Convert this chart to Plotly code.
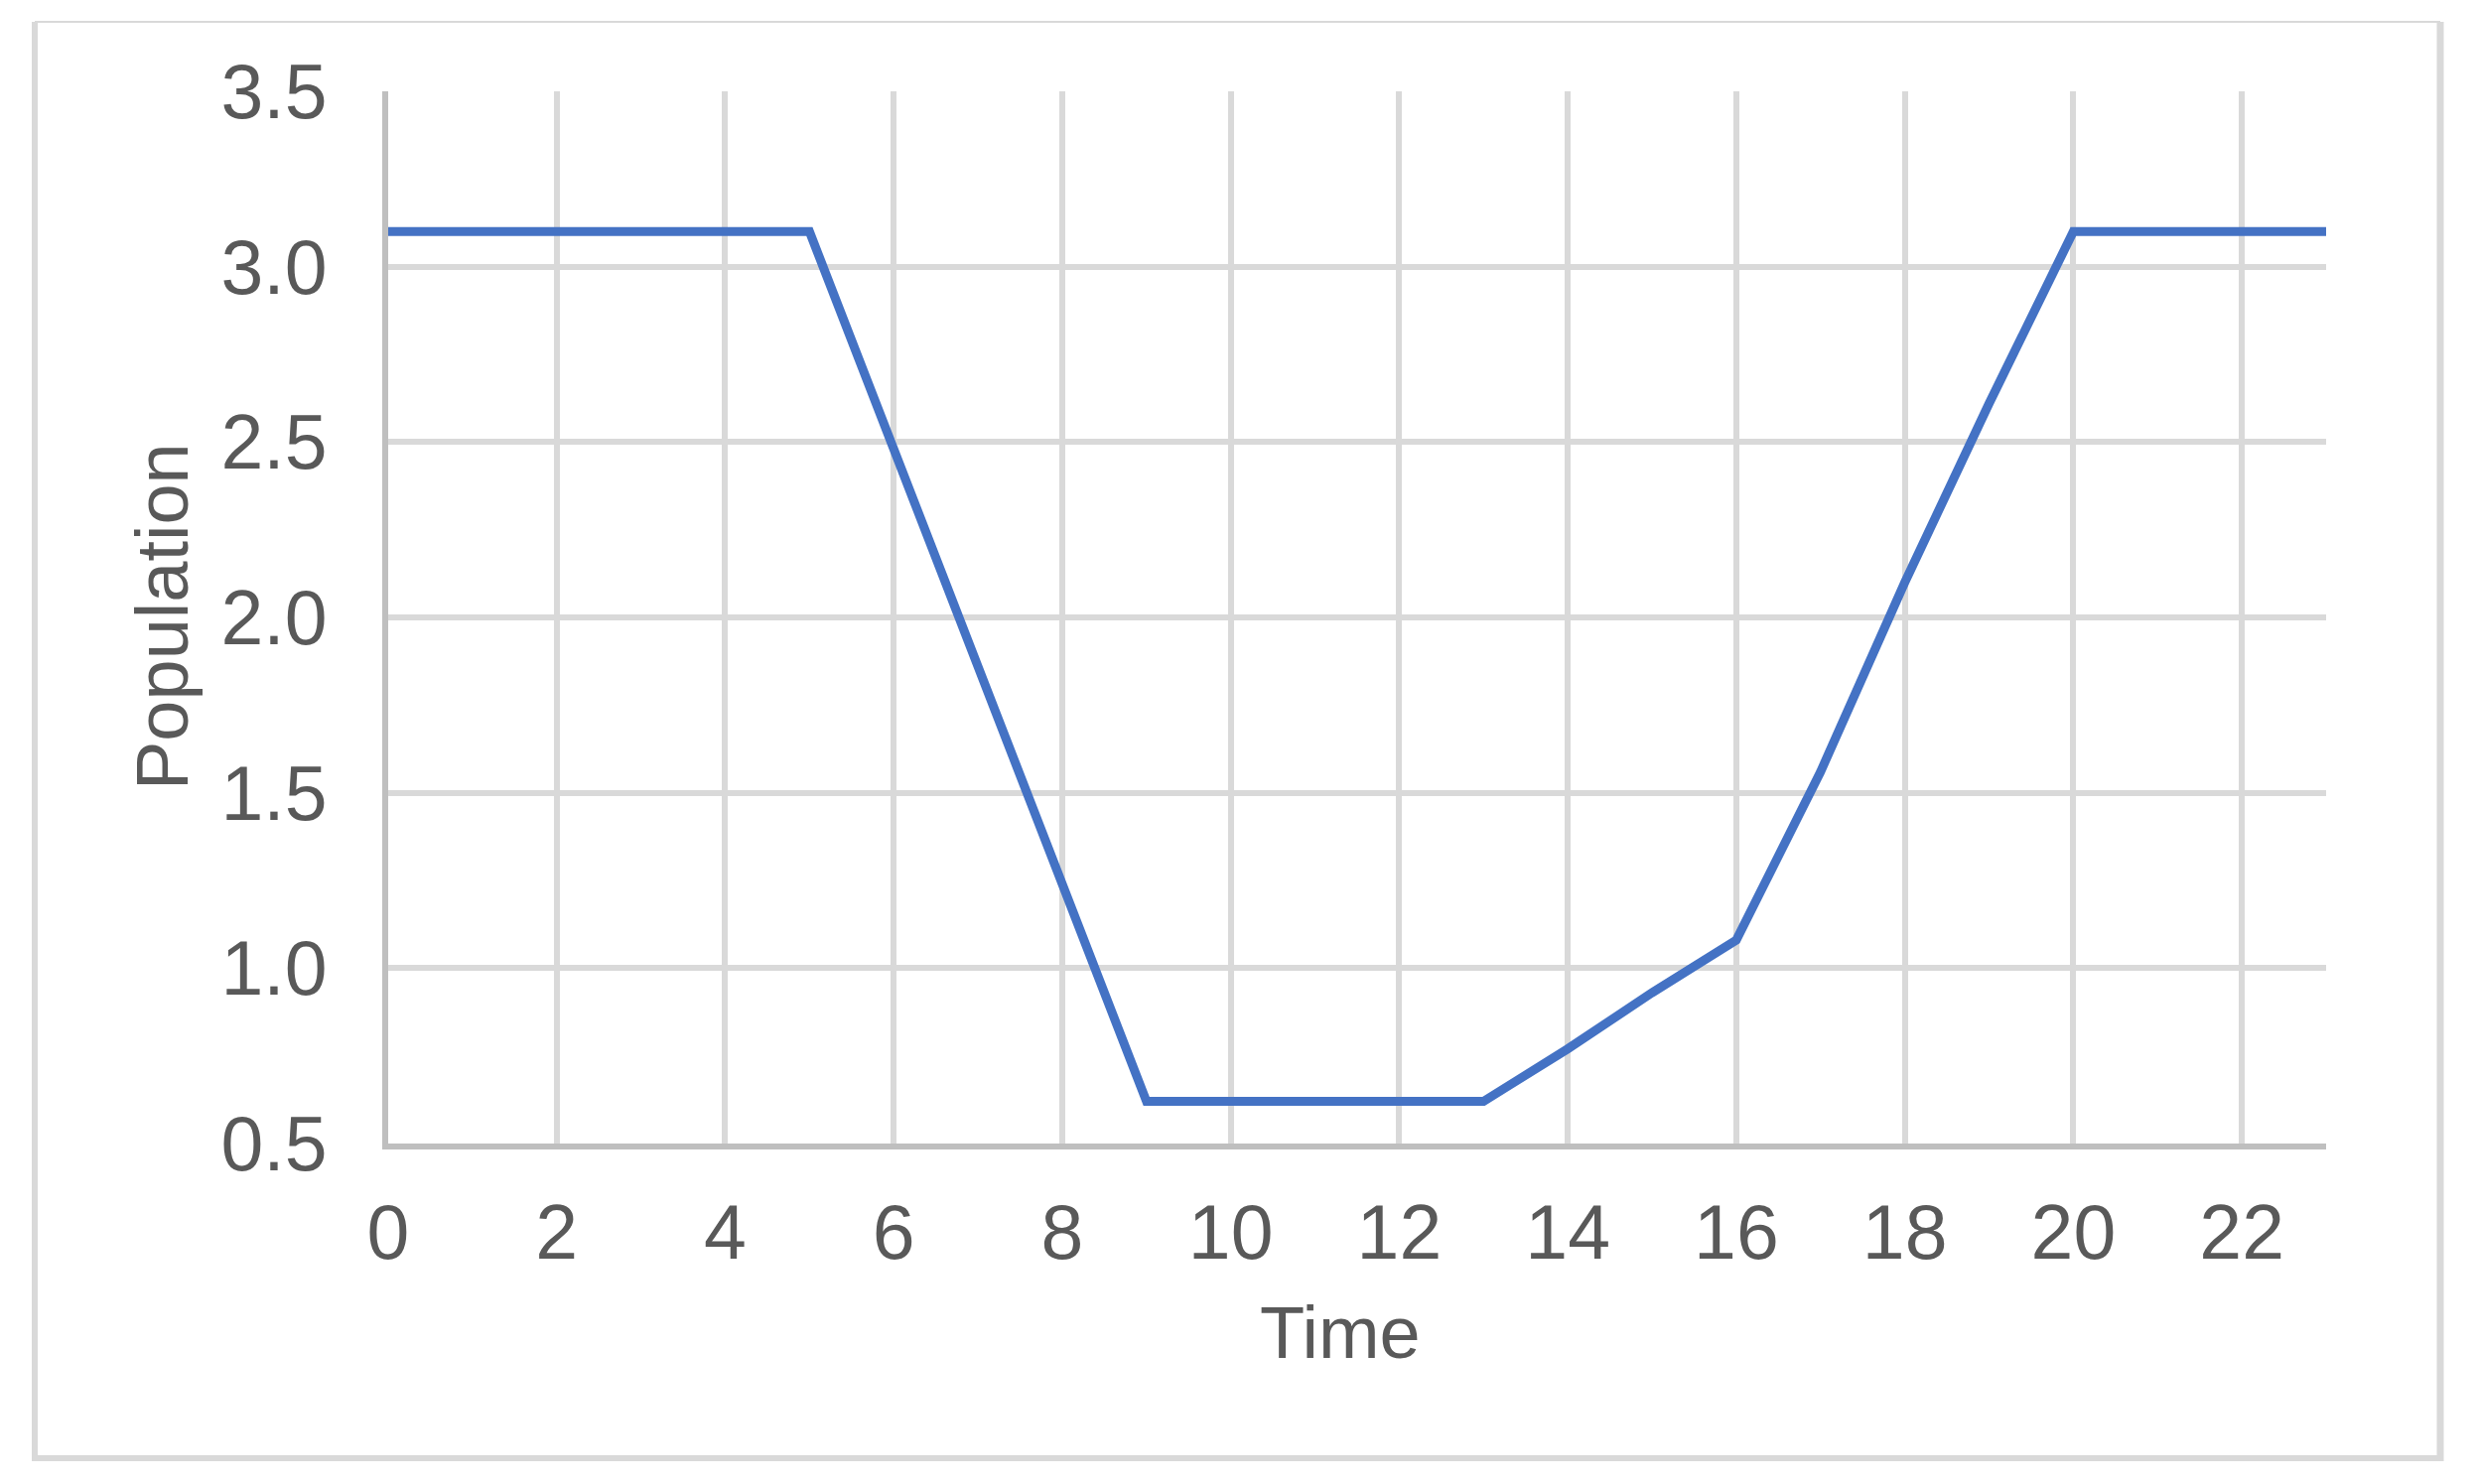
import plotly.graph_objects as go

time = list(range(0, 24))
population = [3.1, 3.1, 3.1, 3.1, 3.1, 3.1, 2.48, 1.86, 1.24, 0.62,
              0.62, 0.62, 0.62, 0.62, 0.77, 0.93, 1.08, 1.56, 2.1, 2.61,
              3.1, 3.1, 3.1, 3.1]
x_ticks = list(range(0, 24, 2))
y_ticks = [0.5, 1.0, 1.5, 2.0, 2.5, 3.0, 3.5]

W, H = 2496, 1495
OFF = 8  # default page body margin
L, R, T, B = 391 - OFF, 2343 - OFF, 92 - OFF, 1152 - OFF

def px(xp):
    return (xp - OFF - L) / (R - L)

def py(yp):
    return (B - (yp - OFF)) / (B - T)

fig = go.Figure()
fig.add_trace(go.Scatter(x=time, y=population, mode="lines",
                         line=dict(color="#4472C4", width=9),
                         showlegend=False, hoverinfo="skip"))

font = "Arial, Liberation Sans, sans-serif"
fig.update_layout(
    width=W, height=H,
    margin=dict(l=L, r=W - R, t=T, b=H - B),
    paper_bgcolor="white", plot_bgcolor="white",
    font=dict(family=font, color="#595959"),
    xaxis=dict(range=[0, 23], tickvals=x_ticks, ticktext=[str(v) for v in x_ticks],
               showgrid=True, gridcolor="#D9D9D9", gridwidth=6,
               showline=True, linecolor="#BFBFBF", linewidth=6,
               zeroline=False, ticks="", tickfont=dict(size=77, color="#595959"),
               ticklabelstandoff=18),
    yaxis=dict(range=[0.5, 3.5], tickvals=y_ticks, ticktext=[f"{v:.1f}" for v in y_ticks],
               showgrid=True, gridcolor="#D9D9D9", gridwidth=6,
               showline=True, linecolor="#BFBFBF", linewidth=6,
               zeroline=False, ticks="", tickfont=dict(size=77, color="#595959"),
               ticklabelstandoff=40),
    annotations=[
        dict(text="Time", xref="paper", yref="paper", x=px(1350), y=py(1342),
             showarrow=False, xanchor="center", yanchor="middle",
             font=dict(size=74, color="#595959", family=font)),
        dict(text="Population", xref="paper", yref="paper", x=px(164), y=py(621),
             showarrow=False, xanchor="center", yanchor="middle", textangle=-90,
             font=dict(size=74, color="#595959", family=font)),
    ],
    shapes=[
        dict(type="line", xref="paper", yref="paper", x0=px(35), x1=px(2458), y0=py(22), y1=py(22),
             line=dict(color="#D9D9D9", width=2)),
        dict(type="line", xref="paper", yref="paper", x0=px(35), x1=px(2461), y0=py(1469), y1=py(1469),
             line=dict(color="#D9D9D9", width=6)),
        dict(type="line", xref="paper", yref="paper", x0=px(35), x1=px(35), y0=py(22), y1=py(1472),
             line=dict(color="#D9D9D9", width=6)),
        dict(type="line", xref="paper", yref="paper", x0=px(2458), x1=px(2458), y0=py(22), y1=py(1472),
             line=dict(color="#D9D9D9", width=7)),
    ],
)

fig.write_html("out.html")
